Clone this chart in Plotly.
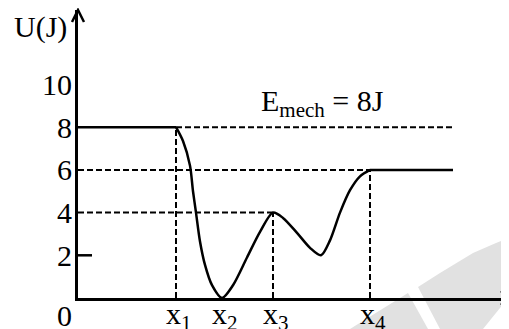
import plotly.graph_objects as go

# ── Data ─────────────────────────────────────────────────────────────────────
x_ticks = [9.8, 14.4, 19.5, 29.2]
x_labels = ["x<sub>1</sub>", "x<sub>2</sub>", "x<sub>3</sub>", "x<sub>4</sub>"]
u_ticks = [2, 4, 6, 8, 10]

# potential energy curve between x1 and x4
curve_x = [9.8, 10.5, 11.2, 11.5, 11.8, 12.2, 12.7, 13.4, 14.4, 15.5, 16.9, 18.2,
           19.5, 20.5, 21.9, 23.2, 24.3, 25.2, 26.2, 27.2, 28.2, 29.2]
curve_u = [8.0, 7.35, 6.2, 5.0, 4.0, 2.65, 1.55, 0.6, 0.0, 0.6, 1.9, 3.1,
           4.0, 3.75, 3.05, 2.35, 2.0, 2.7, 4.0, 5.05, 5.7, 6.0]

u_left = 8      # flat level before x1
u_right = 6     # flat level after x4
u_x3 = 4        # local maximum at x3
e_mech = 8      # mechanical energy
x_end = 37.5    # where the drawn levels stop

# ── Geometry (page has an 8px body margin, so shift everything by it) ───────
OFF = 8
W, H = 509, 329
AX_L, AX_T, AX_R, AX_B = 78, 10, 509, 298          # plot box in page pixels
ML, MT = AX_L - OFF, AX_T - OFF
MR, MB = W - (AX_R - OFF), H - (AX_B - OFF)
PW, PH = AX_R - AX_L, AX_B - AX_T


def px(x):
    return (x - AX_L) / PW


def py(y):
    return (AX_B - y) / PH


FONT = "Liberation Serif"
DASH = "6px,3px"

fig = go.Figure()

# flat parts of U(x)
fig.add_trace(go.Scatter(x=[0, x_ticks[0]], y=[u_left, u_left], mode="lines",
                         line=dict(color="black", width=2.5)))
fig.add_trace(go.Scatter(x=[x_ticks[3], x_end], y=[u_right, u_right], mode="lines",
                         line=dict(color="black", width=2.5)))
# curved part
fig.add_trace(go.Scatter(x=curve_x, y=curve_u, mode="lines",
                         line=dict(color="black", width=2.5, shape="spline", smoothing=0.8)))

# dashed guide lines
dashed = [
    ([x_ticks[0], x_end], [e_mech, e_mech]),
    ([0, x_ticks[3]], [u_right, u_right]),
    ([0, x_ticks[2]], [u_x3, u_x3]),
    ([x_ticks[0], x_ticks[0]], [0, u_left]),
    ([x_ticks[2], x_ticks[2]], [0, u_x3]),
    ([x_ticks[3], x_ticks[3]], [0, u_right]),
]
for xs, ys in dashed:
    fig.add_trace(go.Scatter(x=xs, y=ys, mode="lines",
                             line=dict(color="black", width=2, dash=DASH)))

# little tick at U = 2
fig.add_trace(go.Scatter(x=[0, 1.4], y=[u_ticks[0], u_ticks[0]], mode="lines",
                         line=dict(color="black", width=2.5)))

# ── Watermark shapes ─────────────────────────────────────────────────────────
grey = "#e1e1e1"
wm1 = [(350, 329), (408, 293), (428, 329)]
wm2 = [(418, 287), (440, 273), (473, 253), (496, 243), (509, 238), (509, 297),
       (483, 329), (440, 329)]
for poly in (wm1, wm2):
    path = "M " + " L ".join(f"{px(a):.4f},{py(b):.4f}" for a, b in poly) + " Z"
    fig.add_shape(type="path", path=path, xref="paper", yref="paper",
                  fillcolor=grey, line=dict(width=0), layer="below")

# ── Arrow heads ──────────────────────────────────────────────────────────────
arrows = [
    [(72, 22), (78, 10), (84, 22)],
    [(501, 291), (509, 298), (501, 305)],
]
for pts in arrows:
    path = "M " + " L ".join(f"{px(a):.4f},{py(b):.4f}" for a, b in pts)
    fig.add_shape(type="path", path=path, xref="paper", yref="paper",
                  line=dict(color="black", width=2.5))

# ── Text ─────────────────────────────────────────────────────────────────────
txt = dict(family=FONT, size=30, color="black")
fig.add_annotation(text="U(J)", xref="paper", yref="paper", x=px(69), y=py(27),
                   xanchor="right", yanchor="middle", showarrow=False, font=txt)
fig.add_annotation(text="0", xref="paper", yref="paper", x=px(74), y=py(315),
                   xanchor="right", yanchor="middle", showarrow=False, font=txt)
fig.add_annotation(text="x", xref="paper", yref="paper", x=px(509), y=py(316),
                   xanchor="center", yanchor="middle", showarrow=False, font=txt)
fig.add_annotation(text=f"E<sub>mech</sub> = {e_mech}J", xref="paper", yref="paper",
                   x=px(322), y=py(103), xanchor="center", yanchor="middle",
                   showarrow=False, font=txt)

# x tick labels (placed by hand so they sit close under the axis)
for xv, lab in zip(x_ticks, x_labels):
    fig.add_annotation(text=lab, x=xv, xref="x", y=py(316), yref="paper",
                       xanchor="center", yanchor="middle", showarrow=False,
                       xshift=3, font=txt)

fig.update_layout(
    width=W, height=H,
    margin=dict(l=ML, r=MR, t=MT, b=MB, autoexpand=False),
    plot_bgcolor="rgba(0,0,0,0)",
    paper_bgcolor="white",
    showlegend=False,
    font=txt,
)
fig.update_xaxes(
    range=[0, PW / 10], showgrid=False, zeroline=False, automargin=False,
    showline=True, linecolor="black", linewidth=3,
    showticklabels=False, ticks="",
)
fig.update_yaxes(
    range=[0, PH / 21.35], showgrid=False, zeroline=False, automargin=False,
    showline=True, linecolor="black", linewidth=3,
    tickvals=u_ticks, ticks="", ticklabelstandoff=-3,
    tickfont=txt,
)

fig.write_html("out.html")
